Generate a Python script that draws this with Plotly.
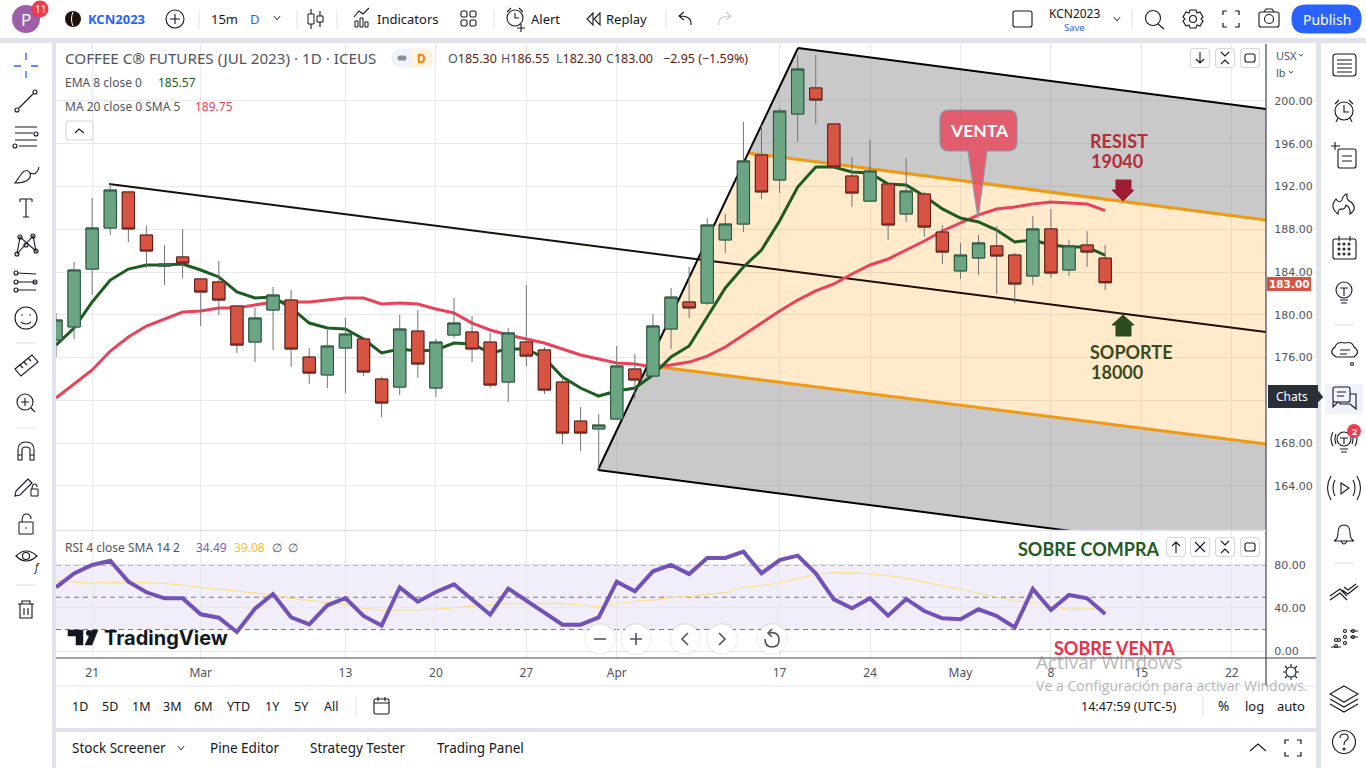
import plotly.graph_objects as go

W, H = 1366, 768

# ---------- data ----------
OPEN = [177.64,178.86,184.28,188.12,191.49,187.46,184.56,185.41,183.35,183.07,180.82,177.45,180.45,181.38,176.05,174.37,176.89,177.74,173.99,173.24,
        178.48,173.15,178.11,178.39,177.45,173.71,177.45,176.71,173.71,170.06,169.32,170.25,174.93,174.27,178.67,181.20,181.10,187.00,188.49,194.95,
        192.61,198.78,201.22,197.85,192.98,190.64,192.24,189.43,191.30,187.74,184.10,185.31,186.44,185.59,183.63,188.03,184.19,186.53,185.30]
HIGH = [180.17,184.94,190.93,192.33,191.60,188.31,186.53,188.03,183.40,185.03,180.92,180.64,182.60,182.32,176.89,178.58,179.70,177.92,174.18,179.98,
        180.45,177.74,181.57,179.89,178.30,178.76,182.79,176.99,174.18,171.37,170.72,177.08,176.33,180.07,182.51,184.47,189.05,189.43,198.04,197.75,
        199.35,204.30,204.30,197.85,194.76,196.35,192.24,194.67,191.49,188.40,186.72,187.46,188.31,185.78,189.24,189.90,187.00,187.84,186.55]
LOW = [176.05,177.74,181.85,187.46,186.81,184.38,182.79,183.44,178.95,179.98,176.43,175.58,176.71,175.12,173.53,173.15,172.68,174.27,170.44,172.50,
       174.09,172.31,177.83,175.58,173.15,171.84,175.21,172.59,167.91,167.26,165.48,170.25,172.12,174.27,176.80,179.70,180.92,185.78,187.74,190.83,
       191.39,196.16,197.85,193.64,190.08,190.64,187.00,188.68,187.28,184.75,183.35,183.72,181.94,181.10,182.79,183.44,183.63,184.47,182.30]
CLOSE = [179.51,184.19,188.12,191.67,188.03,185.97,184.75,184.84,182.13,181.38,177.17,179.70,181.85,176.80,174.55,177.08,178.20,174.65,171.75,178.67,
         175.40,177.45,179.23,176.80,173.43,178.30,176.14,172.96,168.94,168.94,169.69,175.21,173.90,178.95,181.66,180.64,188.40,188.49,194.39,191.49,
         199.06,202.99,200.09,193.83,191.39,193.45,188.40,191.58,188.21,185.87,185.59,186.72,185.50,182.88,188.03,183.91,186.44,185.87,183.00]
EMA8 = [177.17,178.76,181.20,183.25,184.28,184.66,184.66,184.75,184.19,183.54,182.13,181.57,181.66,180.64,179.23,178.76,178.67,177.74,176.43,176.80,
        176.61,176.71,177.36,177.27,176.43,176.80,176.80,175.96,174.18,173.15,172.40,172.87,173.15,174.37,176.05,177.08,179.79,182.51,184.47,186.06,
        188.77,191.95,193.83,193.83,193.36,193.26,192.24,192.14,191.11,189.90,189.05,188.68,187.93,186.81,187.00,186.53,186.34,186.34,185.57]
MA20 = [172.22,173.53,174.84,176.61,177.92,178.95,179.61,180.26,180.35,180.64,180.64,180.92,181.20,181.20,181.20,181.38,181.57,181.57,181.01,181.10,
        181.01,180.54,180.17,179.23,178.58,178.11,177.74,177.36,176.80,176.24,175.86,175.49,175.40,175.12,175.30,175.58,176.14,176.99,178.11,179.23,
        180.35,181.38,182.23,182.88,183.82,184.66,185.22,186.06,186.90,187.84,188.59,189.34,189.90,190.09,190.36,190.55,190.46,190.36,189.75]
RSI = [59.2,72.2,80.0,84.0,64.5,54.6,49.0,49.0,34.1,31.0,17.7,39.4,53.0,31.3,24.8,42.5,49.3,32.6,23.6,59.2,45.9,54.9,62.0,48.4,33.8,58.0,46.8,35.7,24.5,24.5,
       31.3,64.5,55.5,74.1,80.0,71.6,86.5,86.5,92.4,72.2,84.6,88.7,72.2,48.0,39.7,49.0,32.9,48.4,37.2,30.4,29.5,38.8,32.6,22.0,57.7,38.1,52.1,49.0,34.49]
RSI_SMA = [65.4,64.2,63.0,63.9,63.9,63.6,62.6,61.4,59.2,57.4,55.2,53.6,52.1,49.0,46.8,44.9,43.4,39.7,37.9,37.9,38.2,39.0,40.3,41.2,42.5,44.0,44.0,44.3,44.3,42.8,
           41.2,43.7,46.5,47.4,49.6,50.5,52.7,54.2,59.3,60.8,63.5,67.6,71.3,72.6,72.9,71.6,70.1,67.6,63.9,60.5,57.4,53.6,49.9,46.5,44.9,41.9,38.8,39.1,39.08]
SESSIONS = list(range(len(CLOSE)))

TICK_SESSIONS = [2, 8, 16, 21, 26, 31, 40, 45, 50, 55, 60, 65]
TICK_LABELS = ["21", "Mar", "13", "20", "27", "Apr", "17", "24", "May", "8", "15", "22"]
PRICE_TICKS = [164, 168, 172, 176, 180, 184, 188, 192, 196, 200]
# the 172.00 label sits behind the "Chats" tooltip in the reference
PRICE_LABELS = ["164.00", "168.00", "", "176.00", "180.00", "184.00", "188.00", "192.00", "196.00", "200.00"]
RSI_TICKS = [0, 40, 80]
RSI_LABELS = ["0.00", "40.00", "80.00"]
RSI_LEVELS = [80, 50, 20]

# pitchfork anchors (session, price)
MEDIAN_X, MEDIAN_Y = [2.93, 66.89], [192.24, 178.39]
UPPER_X, UPPER_Y = [38.25, 66.89], [195.14, 188.87]
LOWER_X, LOWER_Y = [32.73, 66.89], [175.26, 167.91]
OUT_UP_X, OUT_UP_Y = [41.02, 66.89], [204.96, 199.25]
OUT_LO_X, OUT_LO_Y = [29.96, 66.89], [165.48, 157.43]

UP, DOWN = "#6BA583", "#D75442"
UP_EDGE, DOWN_EDGE = "#225437", "#5B1A13"
WICK = "#737375"
FONT = "Noto Sans"
TXT = "#131722"
GREY = "#50535e"
BLUE = "#2962ff"

fig = go.Figure()
hid = dict(hoverinfo="skip", showlegend=False)

# pitchfork fills
fig.add_trace(go.Scatter(x=[UPPER_X[0], OUT_UP_X[0], OUT_UP_X[1], UPPER_X[1], UPPER_X[0]],
                         y=[UPPER_Y[0], OUT_UP_Y[0], OUT_UP_Y[1], UPPER_Y[1], UPPER_Y[0]],
                         fill="toself", fillcolor="rgba(120,120,120,0.4)", mode="none", **hid))
fig.add_trace(go.Scatter(x=[OUT_LO_X[0], LOWER_X[0], LOWER_X[1], OUT_LO_X[1], OUT_LO_X[0]],
                         y=[OUT_LO_Y[0], LOWER_Y[0], LOWER_Y[1], OUT_LO_Y[1], OUT_LO_Y[0]],
                         fill="toself", fillcolor="rgba(120,120,120,0.4)", mode="none", **hid))
fig.add_trace(go.Scatter(x=[LOWER_X[0], UPPER_X[0], UPPER_X[1], LOWER_X[1], LOWER_X[0]],
                         y=[LOWER_Y[0], UPPER_Y[0], UPPER_Y[1], LOWER_Y[1], LOWER_Y[0]],
                         fill="toself", fillcolor="rgba(255,152,0,0.2)", mode="none", **hid))
# pitchfork lines
for xs, ys, col, w in [(MEDIAN_X, MEDIAN_Y, "#1a0f05", 2), (OUT_UP_X, OUT_UP_Y, "#000000", 2),
                       (OUT_LO_X, OUT_LO_Y, "#000000", 2), (UPPER_X, UPPER_Y, "#ee9a14", 3),
                       (LOWER_X, LOWER_Y, "#ee9a14", 3),
                       ([OUT_LO_X[0], OUT_UP_X[0]], [OUT_LO_Y[0], OUT_UP_Y[0]], "#000000", 2)]:
    fig.add_trace(go.Scatter(x=xs, y=ys, mode="lines", line=dict(color=col, width=w), **hid))
# moving averages
fig.add_trace(go.Scatter(x=SESSIONS, y=MA20, mode="lines", line=dict(color="#e8435a", width=3), **hid))
fig.add_trace(go.Scatter(x=SESSIONS, y=EMA8, mode="lines", line=dict(color="#1e5b22", width=3), **hid))
# candles (grey wicks, then coloured body outlines), above the drawings
fig.add_trace(go.Candlestick(x=SESSIONS, open=OPEN, high=HIGH, low=LOW, close=CLOSE, yaxis="y3", whiskerwidth=0,
                             increasing=dict(line=dict(color=WICK, width=1), fillcolor=UP),
                             decreasing=dict(line=dict(color=WICK, width=1), fillcolor=DOWN),
                             hoverinfo="skip", showlegend=False))
fig.add_trace(go.Candlestick(x=SESSIONS, open=OPEN, close=CLOSE, yaxis="y3", whiskerwidth=0,
                             high=[max(o, c) for o, c in zip(OPEN, CLOSE)],
                             low=[min(o, c) for o, c in zip(OPEN, CLOSE)],
                             increasing=dict(line=dict(color=UP_EDGE, width=1), fillcolor=UP),
                             decreasing=dict(line=dict(color=DOWN_EDGE, width=1), fillcolor=DOWN),
                             hoverinfo="skip", showlegend=False))
# RSI pane
fig.add_trace(go.Scatter(x=SESSIONS, y=RSI_SMA, yaxis="y2", mode="lines", line=dict(color="#fbe08a", width=1.2), **hid))
fig.add_trace(go.Scatter(x=SESSIONS, y=RSI, yaxis="y2", mode="lines", line=dict(color="#7352b8", width=4), **hid))

# ---------- page furniture helpers (pixel coordinates -> paper) ----------
shapes, notes = [], []


def pth(d):
    out, isx = [], True
    for t in d.split():
        if t.isalpha():
            out.append(t)
        else:
            v = float(t)
            out.append(f"{v / W:.5f}" if isx else f"{1 - v / H:.5f}")
            isx = not isx
    return " ".join(out)


def P(d, c=TXT, w=1.1, fill=None, layer="above"):
    shapes.append(dict(type="path", xref="paper", yref="paper", path=pth(d), layer=layer,
                       line=dict(color=c, width=w), fillcolor=fill or "rgba(0,0,0,0)"))


def R(x0, y0, x1, y1, fill=None, c=None, w=1, layer="above"):
    shapes.append(dict(type="rect", xref="paper", yref="paper", x0=x0 / W, x1=x1 / W, y0=1 - y0 / H, y1=1 - y1 / H,
                       layer=layer, fillcolor=fill or "rgba(0,0,0,0)",
                       line=dict(color=c or "rgba(0,0,0,0)", width=w if c else 0)))


def RR(x0, y0, x1, y1, r=3, fill=None, c=TXT, w=1.1, layer="above"):
    P(f"M {x0 + r} {y0} L {x1 - r} {y0} Q {x1} {y0} {x1} {y0 + r} L {x1} {y1 - r} Q {x1} {y1} {x1 - r} {y1} "
      f"L {x0 + r} {y1} Q {x0} {y1} {x0} {y1 - r} L {x0} {y0 + r} Q {x0} {y0} {x0 + r} {y0} Z", c, w, fill, layer)


def C(cx, cy, r, fill=None, c=TXT, w=1.1):
    shapes.append(dict(type="circle", xref="paper", yref="paper", x0=(cx - r) / W, x1=(cx + r) / W,
                       y0=1 - (cy + r) / H, y1=1 - (cy - r) / H, fillcolor=fill or "rgba(0,0,0,0)",
                       line=dict(color=c or "rgba(0,0,0,0)", width=w if c else 0)))


def T(x, y, s, size=13, color=TXT, anchor="left", font=FONT):
    # annotations carry a 2 px inner pad on the anchored side
    x_ = x - 2 if anchor == "left" else x
    notes.append(dict(xref="paper", yref="paper", x=x_ / W, y=1 - y / H, text=s, showarrow=False, xanchor=anchor,
                      yanchor="middle", align=anchor, font=dict(family=font, size=size, color=color)))


def chev(x, y, s=3, c=TXT):
    P(f"M {x - s} {y - s * 0.6} L {x} {y + s * 0.6} L {x + s} {y - s * 0.6}", c, 1)


def fs(x, y, s=8, g=4, c=TXT):
    for sx in (-1, 1):
        for sy in (-1, 1):
            P(f"M {x + sx * s} {y + sy * g} L {x + sx * s} {y + sy * s} L {x + sx * g} {y + sy * s}", c, 1.2)


BG = "#e0e3eb"
# white panels
R(0, 0, W, 38, "white", layer="below")
R(0, 43, 52, H, "white", layer="below")
R(56, 43, 1316, 728, "white", layer="below")
R(56, 732, 1316, H, "white", layer="below")
R(1321, 43, W, H, "white", layer="below")
# axis frame lines
P("M 1266 44 L 1266 686", "#434651", 1.2)
P("M 56 658 L 1316 658", "#434651", 1.2)
P("M 56 686 L 1316 686", BG, 1)
P("M 56 530.5 L 1266 530.5", BG, 1.5)

# ---- top bar ----
C(26, 19, 14, "#9c5fa8", None)
T(26, 19, "P", 17, "white", "center")
C(40, 9, 8.5, "#ef3b4f", None)
T(40, 9, "11", 10, "white", "center")
C(73, 19, 8, "#20100c", None)
P("M 73 12 Q 70 19 73 26", "white", 1)
T(88, 19, "<b>KCN2023</b>", 13, BLUE)
C(175, 19, 9)
P("M 175 14 L 175 24 M 170 19 L 180 19")
P("M 199 10 L 199 29", BG)
T(211, 19, "15m", 13)
T(250, 19, "D", 13, BLUE)
chev(277, 18)
P("M 297 10 L 297 29", BG)
P("M 311 9 L 311 14 M 311 24 L 311 29 M 320 11 L 320 16 M 320 22 L 320 27")
R(308, 14, 314, 24, None, TXT)
R(317, 16, 323, 22, None, TXT)
P("M 337 10 L 337 29", BG)
R(355, 21, 358, 27, None, TXT)
R(360, 18, 363, 27, None, TXT)
R(365, 22, 368, 27, None, TXT)
P("M 354 17 L 359 11 L 363 14 L 369 8")
T(377, 19, "Indicators", 13)
for gx in (461, 470):
    for gy in (11, 20):
        RR(gx, gy, gx + 6, gy + 6, 1.5)
P("M 494 10 L 494 29", BG)
C(515, 18, 8)
P("M 515 13 L 515 18 L 519 18 M 507 12 L 511 8 M 523 12 L 519 8 M 521 24 L 521 32 M 517 28 L 525 28")
T(531, 19, "Alert", 13)
P("M 593 13 L 587 19 L 593 25 Z M 600 13 L 594 19 L 600 25 Z")
T(606, 19, "Replay", 13)
P("M 666 10 L 666 29", BG)
P("M 691 25 Q 692 16 680 16 M 684 12 L 679 16 L 684 20")
P("M 719 25 Q 718 16 730 16 M 726 12 L 731 16 L 726 20", "#c8cad0")
RR(1013, 11, 1032, 27, 2)
T(1074, 14, "KCN2023", 12, TXT, "center")
T(1074, 27, "Save", 9.5, BLUE, "center")
chev(1117, 19)
P("M 1132 9 L 1132 30", BG)
C(1153, 18, 7.5)
P("M 1158 24 L 1164 29")
C(1193, 19, 3.5)
P("M 1190 10 L 1196 10 L 1197 13 L 1200 12 L 1203 17 L 1201 19 L 1203 21 L 1200 26 L 1197 25 L 1196 28 L 1190 28 L 1189 25 "
  "L 1186 26 L 1183 21 L 1185 19 L 1183 17 L 1186 12 L 1189 13 Z")
fs(1231, 19, 8, 4)
RR(1259, 12, 1279, 27, 2)
P("M 1264 12 L 1266 9 L 1272 9 L 1274 12")
C(1269, 19, 4.5)
RR(1292, 5, 1361, 33, 14, BLUE, BLUE)
T(1327, 19, "Publish", 14, "white", "center")

# ---- legend block ----
T(65, 58, "COFFEE C® FUTURES (JUL 2023) · 1D · ICEUS", 15.2, "#50535e")
RR(392, 49, 433, 67, 9, "#f0f3fa", "#f0f3fa", layer="above")
P("M 412 49 L 424 49 Q 433 49 433 58 Q 433 67 424 67 L 412 67 Z", "#fff3e0", 0.5, "#fff3e0")
RR(398, 56, 406, 60, 2, "#8a8e99", "#8a8e99")
T(421, 58, "<b>D</b>", 12, "#f57c00", "center")
red_ohlc = "#5b1a13"
for x_, k, v in [(448, "O", "185.30"), (501, "H", "186.55"), (556, "L", "182.30"), (606, "C", "183.00")]:
    T(x_, 59, f"<span style='color:#50535e'>{k}</span>{v}", 12.5, red_ohlc)
T(663, 59, "−2.95 (−1.59%)", 12.5, red_ohlc)
T(65, 83, "EMA 8 close 0", 12, GREY)
T(158, 83, "185.57", 12, "#1e5b22")
T(65, 106, "MA 20 close 0 SMA 5", 12, GREY)
T(195, 106, "189.75", 12, "#e8435a")
RR(66, 121, 93, 140, 3, "white", "#d5d7de")
P("M 75 133 L 79 129 L 84 133")


def btn(x, y, kind):
    RR(x - 9.5, y - 9.5, x + 9.5, y + 9.5, 3.5, "white", "#d5d7de")
    if kind == "up":
        P(f"M {x} {y + 6} L {x} {y - 5} M {x - 4} {y - 1} L {x} {y - 5} L {x + 4} {y - 1}")
    if kind == "down":
        P(f"M {x} {y - 6} L {x} {y + 5} M {x - 4} {y + 1} L {x} {y + 5} L {x + 4} {y + 1}")
    if kind == "x":
        P(f"M {x - 5} {y - 5} L {x + 5} {y + 5} M {x + 5} {y - 5} L {x - 5} {y + 5}")
    if kind == "col":
        P(f"M {x - 4} {y - 6} L {x} {y - 2} L {x + 4} {y - 6} M {x - 4} {y + 6} L {x} {y + 2} L {x + 4} {y + 6}")
    if kind == "max":
        RR(x - 5, y - 4, x + 5, y + 4, 2)


btn(1200, 58, "down")
btn(1225, 58, "col")
btn(1250, 58, "max")
btn(1176, 547, "up")
btn(1200, 547, "x")
btn(1225, 547, "col")
btn(1250, 547, "max")
T(1276, 55, "USX", 11, GREY)
chev(1301, 55, 2, GREY)
T(1276, 72, "lb", 11, GREY)
chev(1291, 72, 2, GREY)

# ---- drawing annotations ----
P("M 949 110 L 1008 110 Q 1017 110 1017 119 L 1017 142 Q 1017 151 1008 151 L 987 151 L 978 218 L 968 151 L 949 151 "
  "Q 940 151 940 142 L 940 119 Q 940 110 949 110 Z", "#8b95a5", 1.2, "rgba(232,70,90,0.82)")
T(979, 130, "<b>VENTA</b>", 17.5, "white", "center", "Lato")
T(1090, 141, "<b>RESIST</b>", 18, "#b42b3a", "left", "Lato")
T(1091, 161, "<b>19040</b>", 18, "#b42b3a", "left", "Lato")
P("M 1116 180 L 1131 180 L 1131 190 L 1134 190 L 1123 201 L 1112 190 L 1116 190 Z", "#9c1c32", 1, "#9c1c32")
T(1090, 352, "<b>SOPORTE</b>", 18, "#3a4a20", "left", "Lato")
T(1091, 372, "<b>18000</b>", 18, "#3a4a20", "left", "Lato")
P("M 1116 336 L 1131 336 L 1131 325 L 1134 325 L 1123 315 L 1112 325 L 1116 325 Z", "#2e4a1f", 1, "#2e4a1f")
T(1018, 549, "<b>SOBRE COMPRA</b>", 18, "#1e5b22", "left", "Lato")
T(1054, 648, "<b>SOBRE VENTA</b>", 18, "#e8304a", "left", "Lato")

# last price label
R(1267, 277, 1311, 291, "#d75442", None)
T(1289, 284, "<b>183.00</b>", 10.5, "white", "center", "DejaVu Sans")

# ---- RSI legend ----
T(65, 547, "RSI 4 close SMA 14 2", 12, GREY)
T(196, 547, "34.49", 12, "#7e57c2")
T(234, 547, "39.08", 12, "#fbc02d")
T(272, 547, "∅  ∅", 11.5, GREY)

# TradingView logo and navigation buttons
P("M 68 630 L 83 630 L 83 645 L 76 645 L 76 636 L 68 636 Z", TXT, 0.5, TXT)
C(89, 633, 3, TXT, None)
P("M 92 630 L 98 630 L 92 645 L 85 645 Z", TXT, 0.5, TXT)
T(104, 638, "<b>TradingView</b>", 20, TXT, "left", "Inter")
for cx in (600, 636, 685, 722, 772):
    C(cx, 639, 16, "rgba(0,0,0,0.06)", None)
    C(cx, 639, 14.5, "white", None)
P("M 594 639 L 606 639", "#50535e", 1.6)
P("M 630 639 L 642 639 M 636 633 L 636 645", "#50535e", 1.6)
P("M 688 633 L 682 639 L 688 645", "#50535e", 1.6)
P("M 719 633 L 725 639 L 719 645", "#50535e", 1.6)
P("M 768 633 Q 779 631 779 640 Q 779 647 772 647 Q 765 647 765 639 M 772 629 L 768 633 L 772 637", "#50535e", 1.6)

# gear under the price axis
C(1291, 672, 5)
P("M 1291 664 L 1291 667 M 1291 677 L 1291 680 M 1283 672 L 1286 672 M 1296 672 L 1299 672 "
  "M 1285 666 L 1287 668 M 1295 676 L 1297 678 M 1297 666 L 1295 668 M 1287 676 L 1285 678")

# ---- range row ----
for x_, s in [(80, "1D"), (110, "5D"), (141, "1M"), (172, "3M"), (203, "6M"), (238, "YTD"), (272, "1Y"), (301, "5Y"), (331, "All")]:
    T(x_, 706, s, 12.5, TXT, "center")
P("M 356 696 L 356 716", BG)
RR(374, 699, 389, 714, 1.5)
P("M 374 703 L 389 703 M 378 697 L 378 701 M 385 697 L 385 701")
T(1081, 706, "14:47:59 (UTC-5)", 12.5)
P("M 1203 696 L 1203 716", BG)
T(1223, 706, "%", 13.5, TXT, "center")
T(1254, 706, "log", 13, TXT, "center")
T(1291, 706, "auto", 13, TXT, "center")

# ---- bottom row ----
T(72, 748, "Stock Screener", 13.5)
chev(181, 748)
T(210, 748, "Pine Editor", 13.5)
T(310, 748, "Strategy Tester", 13.5)
T(437, 748, "Trading Panel", 13.5)
P("M 1250 751 L 1258 744 L 1266 751")
fs(1293, 748, 8, 4)

# ---- left toolbar ----
P("M 26 53 L 26 60 M 26 71 L 26 78 M 14 66 L 21 66 M 31 66 L 38 66", "#2962ff", 1.3)
C(17, 110, 2)
C(35, 92, 2)
P("M 19 108 L 33 94")
P("M 15 127 L 37 127 M 15 133 L 33 133 M 19 146 L 37 146 M 15 140 L 37 140")
C(36, 134, 2)
C(15, 146, 2)
P("M 15 183 L 22 173 Q 27 168 30 173 Q 32 178 26 181 Q 22 183 15 183 Z M 30 173 Q 37 176 39 167")
P("M 20 199 L 32 199 M 26 199 L 26 217 M 23 217 L 29 217 M 20 199 L 20 202 M 32 199 L 32 202")
for a, b in [(17, 254), (36, 251), (20, 237), (33, 236), (26, 245)]:
    C(a, b, 2)
P("M 17 254 L 20 237 L 36 251 L 33 236 L 17 254")
P("M 17 273 L 36 274 M 17 282 L 36 282 M 17 290 L 36 290", TXT, 1)
C(16, 273, 2)
C(16, 282, 2)
C(16, 290, 2)
C(35, 282, 2)
C(26, 318, 11)
C(22, 315, 0.8, TXT, None)
C(30, 315, 0.8, TXT, None)
P("M 21 322 Q 26 326 31 322")
P("M 16 343 L 36 343", BG)
P("M 15 369 L 32 355 L 38 362 L 21 376 Z M 20 365 L 23 368 M 24 362 L 27 365 M 28 358 L 31 361")
C(25, 402, 8)
P("M 31 408 L 35 412 M 21 402 L 29 402 M 25 398 L 25 406")
P("M 16 428 L 36 428", BG)
P("M 18 460 L 18 450 Q 18 442 26 442 Q 34 442 34 450 L 34 460 L 30 460 L 30 450 Q 30 447 26 447 Q 22 447 22 450 L 22 460 Z M 18 455 L 22 455 M 30 455 L 34 455")
P("M 16 491 L 28 479 L 32 483 L 20 495 L 15 496 Z")
R(31, 489, 38, 496, None, TXT)
P("M 32 489 Q 32 484 35 484 Q 37 484 37 487")
R(19, 522, 33, 534, None, TXT)
P("M 22 522 Q 22 514 26 514 Q 31 514 31 519")
C(26, 528, 0.8, TXT, None)
P("M 16 556 Q 26 546 37 556 Q 26 566 16 556 Z")
C(26, 556, 3.5)
T(36, 567, "<i>f</i>", 10, TXT, "center")
P("M 16 585 L 36 585", BG)
P("M 18 604 L 34 604 M 22 604 L 22 601 L 30 601 L 30 604 M 20 604 L 20 618 L 32 618 L 32 604 M 24 608 L 24 615 M 28 608 L 28 615")

# ---- right toolbar ----
RR(1333, 54, 1356, 76, 3)
P("M 1337 60 L 1352 60 M 1337 64 L 1352 64 M 1337 68 L 1352 68 M 1337 72 L 1352 72")
C(1344, 111, 9)
P("M 1344 105 L 1344 112 L 1349 112 M 1335 104 L 1339 100 M 1353 104 L 1349 100 M 1338 118 L 1336 122 M 1350 118 L 1352 122")
RR(1338, 149, 1356, 168, 2)
P("M 1331 146 L 1340 146 M 1335 142 L 1335 150 M 1342 156 L 1352 156 M 1342 161 L 1352 161")
P("M 1338 214 Q 1329 207 1336 199 Q 1339 204 1342 200 Q 1343 195 1347 194 Q 1346 200 1351 202 Q 1358 209 1350 214 Q 1351 208 1346 205 Q 1345 210 1341 209 Q 1338 209 1338 214 Z")
RR(1333, 239, 1356, 259, 2)
for a in (1339, 1344, 1349):
    for b in (244, 249, 254):
        C(a, b, 1)
P("M 1339 236 L 1339 241 M 1350 236 L 1350 241")
C(1344, 290, 8)
P("M 1340 288 L 1348 288 M 1344 288 L 1344 296 M 1340 300 L 1348 300 M 1341 303 L 1347 303")
P("M 1333 325 L 1355 325", BG)
P("M 1336 357 Q 1328 352 1335 347 Q 1337 341 1345 343 Q 1352 341 1354 347 Q 1361 352 1354 357 Z M 1340 350 L 1350 350 M 1340 354 L 1347 354")
C(1352, 364, 1.5)
R(1325, 384, 1363, 414, "#f0f3fa", None)
RR(1333, 387, 1350, 402, 2)
P("M 1337 392 L 1346 392 M 1337 396 L 1344 396 M 1350 394 L 1356 394 L 1356 409 L 1350 404 L 1340 404 L 1340 402")
P("M 1333 402 L 1333 407 L 1338 402")
R(1268, 385, 1318, 408, "#2a2e39", None)
P("M 1318 391 L 1323 397 L 1318 402 Z", "#2a2e39", 0.5, "#2a2e39")
T(1292, 396, "Chats", 12, "white", "center")
C(1344, 439, 7)
P("M 1340 438 L 1348 438 M 1344 438 L 1344 444 M 1340 449 L 1348 449 M 1341 452 L 1347 452 M 1333 432 Q 1329 439 1333 446 M 1336 434 Q 1334 439 1336 444 M 1352 434 Q 1354 439 1352 444 M 1355 432 Q 1359 439 1355 446")
C(1354, 431, 7, "#ef3b4f", None)
T(1354, 431, "<b>2</b>", 9, "white", "center")
P("M 1341 483 L 1349 488 L 1341 494 Z M 1335 480 Q 1331 488 1335 496 M 1353 480 Q 1357 488 1353 496 M 1331 476 Q 1324 488 1331 500 M 1357 476 Q 1364 488 1357 500")
P("M 1334 541 Q 1338 539 1338 533 Q 1338 525 1344 525 Q 1350 525 1350 533 Q 1350 539 1354 541 Z M 1341 541 Q 1344 547 1347 541")
P("M 1333 563 L 1355 563", BG)
P("M 1330 596 L 1340 589 L 1347 596 M 1330 600 L 1340 593 L 1347 600 M 1342 590 L 1348 594 L 1358 586 M 1344 587 L 1348 590 L 1356 584")
for a, b in [(1336, 640), (1336, 646), (1345, 631), (1345, 637), (1345, 643), (1353, 631), (1353, 637), (1339, 640)]:
    C(a, b, 1.5)
P("M 1331 647 L 1341 647 M 1350 631 L 1358 631 M 1350 637 L 1358 637")
P("M 1344 686 L 1358 694 L 1344 702 L 1330 694 Z M 1330 699 L 1344 707 L 1358 699 M 1330 704 L 1344 712 L 1358 704")
C(1344, 742, 11.5)
P("M 1340 738 Q 1340 734 1344 734 Q 1349 734 1348 739 Q 1344 741 1344 745")
C(1344, 749, 1)

# ---- windows watermark ----
T(1036, 662, "Activar Windows", 19, "rgba(120,120,120,0.55)", "left", "Open Sans")
T(1036, 685, "Ve a Configuración para activar Windows.", 14.1, "rgba(120,120,120,0.55)", "left", "Open Sans")

# RSI band and level lines (in the pane's own scale)
shapes.append(dict(type="rect", xref="x domain", yref="y2", x0=0, x1=1, y0=min(RSI_LEVELS), y1=max(RSI_LEVELS),
                   fillcolor="rgba(126,87,194,0.1)", line=dict(width=0), layer="below"))
for lv in RSI_LEVELS:
    shapes.append(dict(type="line", xref="x domain", yref="y2", x0=0, x1=1, y0=lv, y1=lv,
                       line=dict(color="#787b86", width=1, dash="5px,4px"), layer="below"))

axis_font = dict(family="DejaVu Sans", size=11, color=GREY)
grid = "#e8e9ec"
fig.update_layout(
    width=W, height=H, autosize=False, margin=dict(l=0, r=0, t=0, b=0),
    paper_bgcolor=BG, plot_bgcolor="rgba(0,0,0,0)", showlegend=False, dragmode=False, hovermode=False,
    boxgap=0.15, boxgroupgap=0.2, boxmode="overlay",
    xaxis=dict(domain=[56 / W, 1266 / W], range=[0, 66.89], anchor="y2", tickvals=TICK_SESSIONS, ticktext=TICK_LABELS,
               showgrid=True, gridcolor=grid, zeroline=False, showline=False, ticks="outside", ticklen=4,
               tickcolor="rgba(0,0,0,0)", tickfont=dict(family=FONT, size=12, color=GREY), rangeslider=dict(visible=False),
               fixedrange=True),
    yaxis=dict(domain=[1 - 530 / H, 1 - 44 / H], range=[159.87, 205.33], side="right", anchor="x", tickvals=PRICE_TICKS,
               ticktext=PRICE_LABELS, showgrid=True, gridcolor=grid, zeroline=False, showline=False, ticks="outside", ticklen=5,
               tickcolor="rgba(0,0,0,0)", tickfont=axis_font, fixedrange=True),
    yaxis3=dict(overlaying="y", range=[159.87, 205.33], side="right", visible=False, fixedrange=True, showgrid=False),
    yaxis2=dict(domain=[1 - 658 / H, 1 - 531 / H], range=[-6.51, 111.6], side="right", anchor="x", tickvals=RSI_TICKS,
                ticktext=RSI_LABELS, showgrid=True, gridcolor=grid, zeroline=False, showline=False, ticks="outside", ticklen=5,
                tickcolor="rgba(0,0,0,0)", tickfont=axis_font, fixedrange=True),
    shapes=shapes, annotations=notes,
)

fig.write_html("out.html", config={"displayModeBar": False},
               post_script="document.body.style.margin='0';document.body.style.overflow='hidden';")
